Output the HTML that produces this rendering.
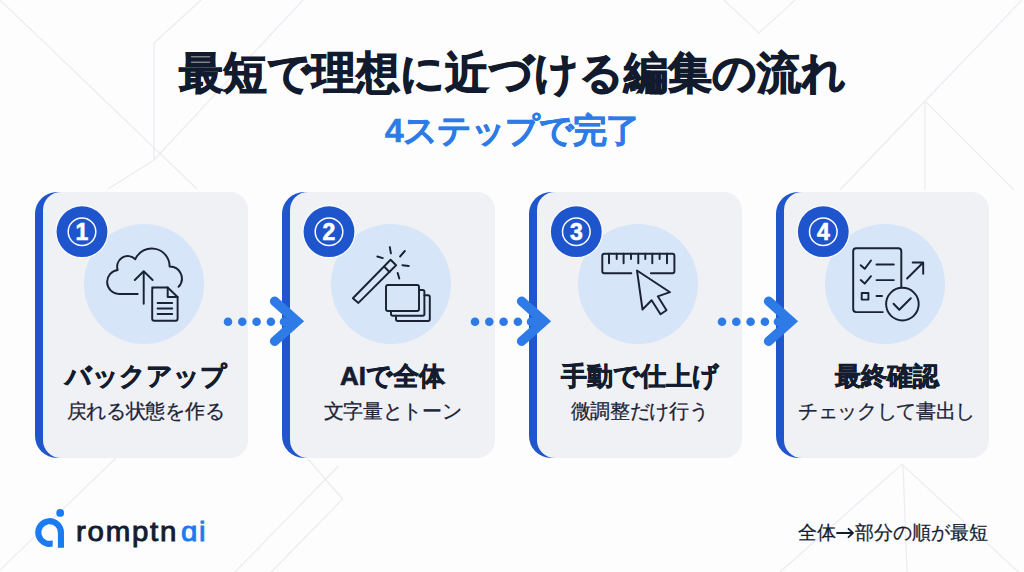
<!DOCTYPE html>
<html lang="ja">
<head>
<meta charset="utf-8">
<style>
html,body{margin:0;padding:0;}
body{width:1024px;height:572px;overflow:hidden;position:relative;background:#fdfdfe;font-family:"Liberation Sans",sans-serif;color:#141c30;}
.bg{position:absolute;left:0;top:0;width:1024px;height:572px;}
.title{position:absolute;left:0;width:1024px;top:45px;text-align:center;font-size:44px;font-weight:bold;line-height:56px;color:#121a2d;letter-spacing:0px;-webkit-text-stroke:1.1px #121a2d;white-space:nowrap;}
.sub{position:absolute;left:0;width:1024px;top:107.5px;text-align:center;font-size:34px;letter-spacing:-0.9px;font-weight:bold;line-height:44px;color:#2d7be6;-webkit-text-stroke:0.5px #2d7be6;white-space:nowrap;}
.card{position:absolute;top:192px;width:213px;height:266px;}
.card::before{content:"";position:absolute;left:0;top:0;width:40px;height:266px;background:#1f56cc;border-radius:22px 0 0 22px;}
.card::after{content:"";position:absolute;left:8px;top:0;right:0;bottom:0;background:#f0f1f4;border-radius:18px;}
.badge{position:absolute;left:22px;top:14px;width:51px;height:51px;border-radius:50%;background:#1f56cc;z-index:3;}
.halo{position:absolute;z-index:1;left:49px;top:32px;width:120px;height:120px;border-radius:50%;background:#d7e5f9;}
.icon{position:absolute;left:0;top:0;}
.h{position:absolute;z-index:1;left:0;width:213px;padding-left:8px;box-sizing:border-box;top:167px;text-align:center;font-size:26px;font-weight:bold;line-height:34px;color:#141c30;-webkit-text-stroke:0.65px #141c30;white-space:nowrap;}
.p{position:absolute;z-index:1;left:0;width:213px;padding-left:8px;box-sizing:border-box;top:206px;text-align:center;font-size:20px;line-height:26px;color:#1c2336;white-space:nowrap;-webkit-text-stroke:0.25px #1c2336;letter-spacing:-0.3px;}
.arrow{position:absolute;top:296px;}
.logo{position:absolute;left:33px;top:505px;}
.brand{position:absolute;left:76px;top:514px;font-size:27px;font-weight:normal;line-height:36px;color:#141c30;white-space:nowrap;-webkit-text-stroke:0.9px #141c30;}
.brand{transform-origin:0 0;transform:scaleX(1.09);letter-spacing:1.6px;}.brand.ai{left:181px;color:#1b7cf2;-webkit-text-stroke:0.9px #1b7cf2;}
.foot{position:absolute;left:798px;top:518px;font-size:19px;line-height:30px;color:#141c30;white-space:nowrap;-webkit-text-stroke:0.25px #141c30;}
</style>
</head>
<body>
<svg class="bg" width="1024" height="572" viewBox="0 0 1024 572">
<g stroke="#ebecf0" stroke-width="1.2" fill="none">
<path d="M0 0 L197 189"/>
<path d="M201 0 L154 43 L154 160"/>
<path d="M303 0 L154 160 L108 189"/>
<path d="M724 0 L759 33 L795 0"/>
<path d="M1022 0 L925 101 L840 190"/>
<path d="M925 101 L925 190"/>
<path d="M925 101 L1014 190"/>
<path d="M117 457 L0 570"/>
<path d="M307.5 458.5 L342.7 499 L271.2 572"/>
<path d="M338.4 466 L235 572"/>
<path d="M902 464.4 L780 572"/>
<path d="M902 464.4 L1018.5 572"/>
<path d="M903 464.4 L907 572"/>
</g>
</svg>

<div class="title">最短で理想に近づける編集の流れ</div>
<div class="sub">4ステップで完了</div>

<div class="card" style="left:35px;">
  <div class="halo"></div>
  <div class="h">バックアップ</div>
  <div class="p">戻れる状態を作る</div>
</div>
<div class="card" style="left:282px;">
  <div class="halo"></div>
  <div class="h">AIで全体</div>
  <div class="p">文字量とトーン</div>
</div>
<div class="card" style="left:529px;">
  <div class="halo"></div>
  <div class="h">手動で仕上げ</div>
  <div class="p">微調整だけ行う</div>
</div>
<div class="card" style="left:776px;">
  <div class="halo"></div>
  <div class="h">最終確認</div>
  <div class="p">チェックして書出し</div>
</div>


<svg class="bg" style="z-index:5" width="1024" height="572" viewBox="0 0 1024 572">

<g transform="translate(82 231.7)">
<circle cx="0" cy="0" r="26.6" fill="#fafbfd"/>
<circle cx="0" cy="0" r="25.4" fill="#1f55cc"/>
<circle cx="0" cy="0" r="13.8" fill="none" stroke="#fff" stroke-width="1.5"/>
</g>
<g transform="translate(329 231.7)">
<circle cx="0" cy="0" r="26.6" fill="#fafbfd"/>
<circle cx="0" cy="0" r="25.4" fill="#1f55cc"/>
<circle cx="0" cy="0" r="13.8" fill="none" stroke="#fff" stroke-width="1.5"/>
</g>
<g transform="translate(576.3 231.7)">
<circle cx="0" cy="0" r="26.6" fill="#fafbfd"/>
<circle cx="0" cy="0" r="25.4" fill="#1f55cc"/>
<circle cx="0" cy="0" r="13.8" fill="none" stroke="#fff" stroke-width="1.5"/>
</g>
<g transform="translate(823.3 231.7)">
<circle cx="0" cy="0" r="26.6" fill="#fafbfd"/>
<circle cx="0" cy="0" r="25.4" fill="#1f55cc"/>
<circle cx="0" cy="0" r="13.8" fill="none" stroke="#fff" stroke-width="1.5"/>
</g>
<g fill="#fff" stroke="#fff" stroke-width="0.6" font-family="Liberation Sans" font-weight="bold" font-size="23" text-anchor="middle">
<text x="82" y="240.3">1</text>
<text x="329" y="240.3">2</text>
<text x="576.3" y="240.3">3</text>
<text x="823.3" y="240.3">4</text>
</g>
<g>

<path d="M283 317.5 L296 321.5 L283 325.9 Z" fill="#2e7be7"/>
<g fill="#2e7be7"><circle cx="228" cy="321.7" r="4.3"/><circle cx="242.3" cy="321.7" r="4.3"/><circle cx="256.6" cy="321.7" r="4.3"/><circle cx="270.9" cy="321.7" r="4.3"/></g>
<circle cx="284" cy="321.7" r="4.3" fill="#2e7be7"/><path d="M274.6 301.3 L297 321.3 L274.6 341.2" fill="none" stroke="#2e7be7" stroke-width="9.5" stroke-linecap="round" stroke-linejoin="miter"/>
</g>
<g transform="translate(247 0)">

<path d="M283 317.5 L296 321.5 L283 325.9 Z" fill="#2e7be7"/>
<g fill="#2e7be7"><circle cx="228" cy="321.7" r="4.3"/><circle cx="242.3" cy="321.7" r="4.3"/><circle cx="256.6" cy="321.7" r="4.3"/><circle cx="270.9" cy="321.7" r="4.3"/></g>
<circle cx="284" cy="321.7" r="4.3" fill="#2e7be7"/><path d="M274.6 301.3 L297 321.3 L274.6 341.2" fill="none" stroke="#2e7be7" stroke-width="9.5" stroke-linecap="round" stroke-linejoin="miter"/>
</g>
<g transform="translate(494 0)">

<path d="M283 317.5 L296 321.5 L283 325.9 Z" fill="#2e7be7"/>
<g fill="#2e7be7"><circle cx="228" cy="321.7" r="4.3"/><circle cx="242.3" cy="321.7" r="4.3"/><circle cx="256.6" cy="321.7" r="4.3"/><circle cx="270.9" cy="321.7" r="4.3"/></g>
<circle cx="284" cy="321.7" r="4.3" fill="#2e7be7"/><path d="M274.6 301.3 L297 321.3 L274.6 341.2" fill="none" stroke="#2e7be7" stroke-width="9.5" stroke-linecap="round" stroke-linejoin="miter"/>
</g>

<g fill="none" stroke="#1a2236" stroke-width="1.95" stroke-linecap="round" stroke-linejoin="round">
<!-- card1 cloud -->
<path d="M137.7 293.9 L118.5 293.9 A12 12 0 0 1 117.7 270 A10.6 10.6 0 0 1 135.3 259.2 A17.9 17.9 0 0 1 169.6 266.5 A12 12 0 0 1 178.5 286.8"/>
<path d="M143.7 303.7 L143.7 271.2 M134.8 280 L143.7 271.2 L152.6 280"/>
<path d="M152.2 287.5 L167.7 287.5 L177.6 297 L177.6 318.7 Q177.6 320.7 175.6 320.7 L154.2 320.7 Q152.2 320.7 152.2 318.7 L152.2 289.5 Q152.2 287.5 154.2 287.5 Z"/>
<path d="M167.7 287.5 L167.7 297 L177.6 297"/>
<path d="M157.6 302.9 H172.2 M157.6 308.4 H172.2 M157.6 313.9 H172.2"/>
<!-- card2 wand -->
<path d="M352.9 298.2 L390.6 259.7 L396.1 265.2 L358.4 302.9 Z"/>
<path d="M384.3 266.7 L389.5 272"/>
<path d="M389.8 247.1 L390.9 253.4 M404.8 251 L400.1 256.5 M402.4 265.2 L408.7 266 M377.3 256.5 L382.8 258.1 M397.7 273 L399.3 278.5"/>
<rect x="386" y="285" width="33" height="26" rx="2"/>
<path d="M391 311 L391 314 Q391 315.8 392.8 315.8 L422.6 315.8 Q424.4 315.8 424.4 314 L424.4 291.8 Q424.4 290 422.6 290 L419 290"/>
<path d="M396 315.8 L396 319.2 Q396 321 397.8 321 L428 321 Q429.8 321 429.8 319.2 L429.8 297 Q429.8 295.2 428 295.2 L424.4 295.2"/>
<!-- card3 ruler -->
<path d="M631.3 273.3 L604.3 273.3 Q602.3 273.3 602.3 271.3 L602.3 255.7 Q602.3 253.7 604.3 253.7 L672.4 253.7 Q674.4 253.7 674.4 255.7 L674.4 271.3 Q674.4 273.3 672.4 273.3 L650.9 273.3"/>
<path d="M609 253.7 V263.2 M616.7 253.7 V259 M623.6 253.7 V263.2 M631 253.7 V259 M638.3 253.7 V263.2 M645.3 253.7 V259 M652.3 253.7 V263.2 M659.6 253.7 V259 M667 253.7 V263.2"/>
<path d="M637 270.5 L642.5 309.5 L651.6 300.3 L660.5 314.3 L666.5 310.2 L657.8 296.3 L670 292.2 Z"/>
<!-- card4 checklist -->
<path d="M901.3 287.2 L901.3 251.2 Q901.3 248.2 898.3 248.2 L856.2 248.2 Q853.2 248.2 853.2 251.2 L853.2 309.1 Q853.2 312.1 856.2 312.1 L882.8 312.1"/>
<path d="M860.7 265.2 L864.7 268.8 L871 260.5 M860.7 280.1 L864.7 283.6 L871 276.2"/>
<path d="M876.5 264.4 H893.8 M876.5 280.1 H893.8 M876.5 295.9 H882"/>
<rect x="861.7" y="292.9" width="6.7" height="6.7"/>
<circle cx="902.4" cy="304.1" r="16.3"/>
<path d="M893.5 303.8 L899.3 309.8 L910.8 298.3"/>
<path d="M907.1 278.5 L922.9 262.8 M912.7 262.4 L923.2 262.4 L923.2 273.8"/>
</g>

<!-- logo -->
<g fill="#1b7cf2">
<path d="M64 532.5 A14.4 14.4 0 1 0 52.7 546.56 L52.7 540.2 A8.3 8.3 0 1 1 57.9 532.5 Z"/>
<rect x="57.9" y="532" width="6.1" height="15.8"/>
<circle cx="60.2" cy="512.9" r="3.9"/>
</g>
</svg>

<div class="brand">romptn</div><div class="brand ai">ɑi</div>
<div class="foot">全体<svg width="19" height="12" viewBox="0 0 19 12" style="vertical-align:0px;margin:0 0 0 0"><path d="M1 6 H17 M12.5 1.8 L17 6 L12.5 10.2" fill="none" stroke="#141c30" stroke-width="1.8" stroke-linecap="round" stroke-linejoin="round"/></svg>部分の順が最短</div>
</body>
</html>
